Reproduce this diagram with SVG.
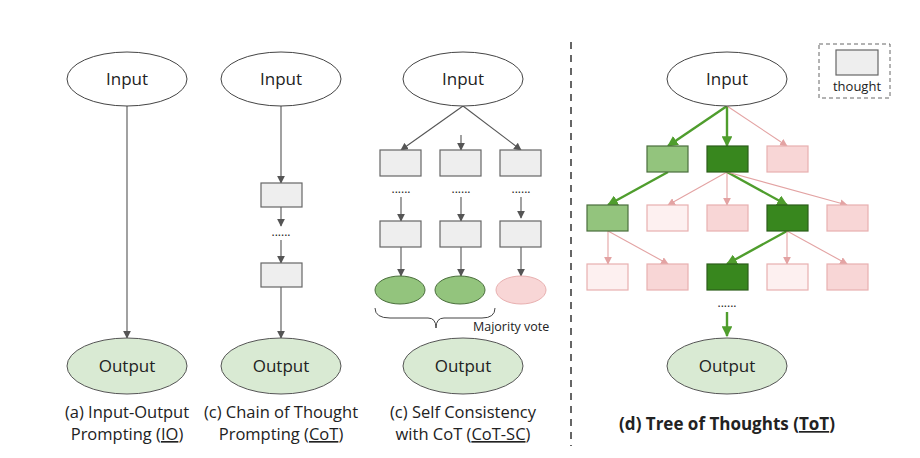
<svg xmlns="http://www.w3.org/2000/svg" width="920" height="458" viewBox="0 0 920 458">
<defs>
<marker id="ag" viewBox="0 0 10 10" refX="9" refY="5" markerWidth="7" markerHeight="7" orient="auto"><path d="M0,0L10,5L0,10z" fill="#555"/></marker>
<marker id="ap" viewBox="0 0 10 10" refX="9" refY="5" markerWidth="7" markerHeight="7" orient="auto"><path d="M0,0L10,5L0,10z" fill="#e3a3a3"/></marker>
<marker id="agr" viewBox="0 0 10 10" refX="9" refY="5" markerWidth="4.5" markerHeight="4.5" orient="auto"><path d="M0,0L10,5L0,10z" fill="#4f9d2d"/></marker>
</defs>
<style>
text{font-family:"Open Sans","Liberation Sans",sans-serif;fill:#222}
.n{font-size:17px;text-anchor:middle}
.c{font-size:16.5px;text-anchor:middle}
.in{fill:#fff;stroke:#444;stroke-width:1}
.out{fill:#d9ead3;stroke:#555;stroke-width:1}
.g{fill:#eee;stroke:#666;stroke-width:1.2}
.lg{fill:#93c47d;stroke:#4a6e3c;stroke-width:1.2}
.dg{fill:#38871e;stroke:#2c5e1a;stroke-width:1.2}
.pk{fill:#f8d6d6;stroke:#e8b0b0;stroke-width:1.2}
.vp{fill:#fdf0f0;stroke:#e8b0b0;stroke-width:1.2}
.e{stroke:#555;stroke-width:1.1;fill:none;marker-end:url(#ag)}
.ep{stroke:#e3a3a3;stroke-width:1.1;fill:none;marker-end:url(#ap)}
.eg{stroke:#4f9d2d;stroke-width:2.4;fill:none;marker-end:url(#agr)}
.dots{font-size:12px;text-anchor:middle}
</style>
<rect width="920" height="458" fill="#fff"/>
<line x1="571" y1="42" x2="571" y2="446" stroke="#666" stroke-width="2" stroke-dasharray="7,6"/>
<g id="connectors">
<path class="e" d="M127,106V338"/>
<path class="e" d="M281,106V183"/><path class="e" d="M281,207V226"/><path class="e" d="M281,240V263"/><path class="e" d="M281,287V338"/>
<path class="e" d="M463,106L401,150"/><path class="e" d="M461,135V150"/><path class="e" d="M463,106L521,150"/>
<path class="e" d="M401,197V221"/><path class="e" d="M461,197V221"/><path class="e" d="M521,197V218"/>
<path class="e" d="M401,247V276"/><path class="e" d="M461,247V276"/><path class="e" d="M521,247V276"/>
<path class="eg" d="M727,106L668,146"/><path class="eg" d="M727,106V146"/><path class="ep" d="M727,106L787,146"/>
<path class="eg" d="M668,172L608,205"/>
<path class="ep" d="M727,172L668,205"/><path class="ep" d="M727,172V205"/><path class="eg" d="M727,172L787,205"/><path class="ep" d="M727,172L847,205"/>
<path class="ep" d="M608,231V264"/><path class="ep" d="M608,231L668,264"/>
<path class="eg" d="M787,231L727,264"/><path class="ep" d="M787,231V264"/><path class="ep" d="M787,231L847,264"/>
<path class="eg" d="M727,312V336"/>
</g>
<g id="a-input"><ellipse class="in" cx="127" cy="79" rx="60" ry="27"/><text class="n" x="127" y="85">Input</text></g>
<g id="a-output"><ellipse class="out" cx="127" cy="366" rx="60" ry="28"/><text class="n" x="127" y="372">Output</text></g>
<g id="b-input"><ellipse class="in" cx="281" cy="79" rx="60" ry="27"/><text class="n" x="281" y="85">Input</text></g>
<g id="b-t1"><rect class="g" x="261" y="183" width="41" height="24"/></g>
<text class="dots" x="281" y="236">......</text>
<g id="b-t2"><rect class="g" x="261" y="263" width="41" height="24"/></g>
<g id="b-output"><ellipse class="out" cx="281" cy="366" rx="60" ry="28"/><text class="n" x="281" y="372">Output</text></g>
<g id="c-input"><ellipse class="in" cx="463" cy="79" rx="60" ry="27"/><text class="n" x="463" y="85">Input</text></g>
<g id="c-r1"><rect class="g" x="380" y="150" width="41" height="26"/><rect class="g" x="440" y="150" width="41" height="26"/><rect class="g" x="500" y="150" width="41" height="26"/></g>
<text class="dots" x="401" y="193">......</text><text class="dots" x="461" y="193">......</text><text class="dots" x="521" y="193">......</text>
<g id="c-r2"><rect class="g" x="380" y="221" width="41" height="26"/><rect class="g" x="440" y="221" width="41" height="26"/><rect class="g" x="500" y="221" width="41" height="26"/></g>
<g id="c-ans"><ellipse cx="400" cy="290" rx="25" ry="14" fill="#93c47d" stroke="#4a6e3c"/><ellipse cx="460" cy="290" rx="25" ry="14" fill="#93c47d" stroke="#4a6e3c"/><ellipse cx="521" cy="290" rx="25" ry="14" fill="#f8d6d6" stroke="#e8b0b0"/></g>
<path d="M375,308 Q375,318 390,318 H428 Q436,318 436,328 Q436,318 444,318 H482 Q495,318 495,308" fill="none" stroke="#444"/>
<text x="473" y="331" font-size="12.5">Majority vote</text>
<g id="c-output"><ellipse class="out" cx="463" cy="366" rx="60" ry="28"/><text class="n" x="463" y="372">Output</text></g>
<text class="c" x="127" y="418">(a) Input-Output</text><text class="c" x="127" y="440">Prompting (<tspan text-decoration="underline">IO</tspan>)</text>
<text class="c" x="281" y="418">(c) Chain of Thought</text><text class="c" x="281" y="440">Prompting (<tspan text-decoration="underline">CoT</tspan>)</text>
<text class="c" x="463" y="418">(c) Self Consistency</text><text class="c" x="463" y="440">with CoT (<tspan text-decoration="underline">CoT-SC</tspan>)</text>
<g id="d-input"><ellipse class="in" cx="727" cy="79" rx="60" ry="27"/><text class="n" x="727" y="85">Input</text></g>
<g id="legend"><rect x="819" y="44" width="71" height="54" fill="none" stroke="#666" stroke-dasharray="4,3"/><rect class="g" x="836" y="50" width="42" height="25"/><text x="857" y="91" font-size="13" text-anchor="middle">thought</text></g>
<g id="d-r1"><rect class="lg" x="647" y="146" width="41" height="26"/><rect class="dg" x="707" y="146" width="41" height="26"/><rect class="pk" x="767" y="146" width="41" height="26"/></g>
<g id="d-r2"><rect class="lg" x="587" y="205" width="41" height="26"/><rect class="vp" x="647" y="205" width="41" height="26"/><rect class="pk" x="707" y="205" width="41" height="26"/><rect class="dg" x="767" y="205" width="41" height="26"/><rect class="pk" x="827" y="205" width="41" height="26"/></g>
<g id="d-r3"><rect class="vp" x="587" y="264" width="41" height="26"/><rect class="pk" x="647" y="264" width="41" height="26"/><rect class="dg" x="707" y="264" width="41" height="26"/><rect class="vp" x="767" y="264" width="41" height="26"/><rect class="pk" x="827" y="264" width="41" height="26"/></g>
<text class="dots" x="727" y="307">......</text>
<g id="d-output"><ellipse class="out" cx="727" cy="366" rx="60" ry="28"/><text class="n" x="727" y="372">Output</text></g>
<text x="727" y="430" font-size="17" font-weight="bold" text-anchor="middle">(d) Tree of Thoughts (<tspan text-decoration="underline">ToT</tspan>)</text>
</svg>
